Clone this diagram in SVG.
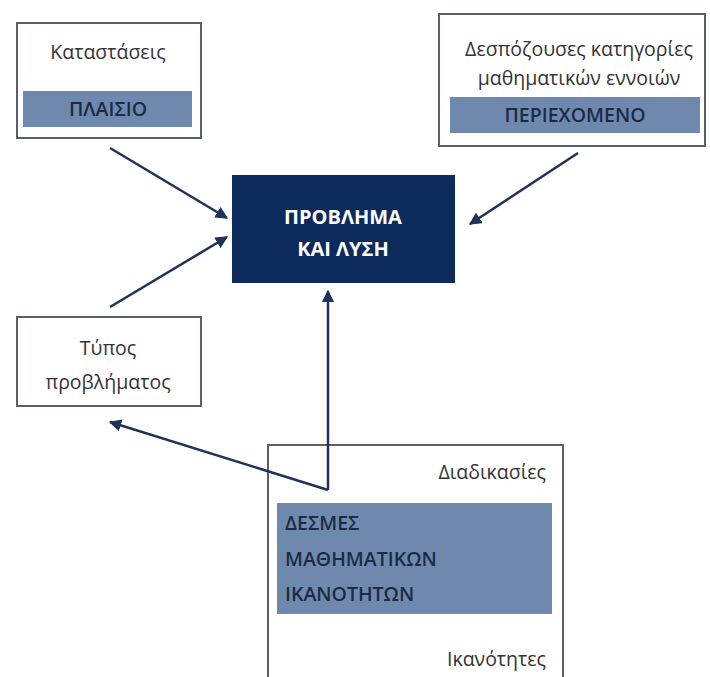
<svg xmlns="http://www.w3.org/2000/svg" width="710" height="677" viewBox="0 0 710 677">
<style>
.box{fill:#fff;stroke:#5a5f6a;stroke-width:2}
.band{fill:#6f89ae}
.t{font-family:"Open Sans","DejaVu Sans",sans-serif;font-size:19.5px;fill:#333}
.bt{font-family:"Open Sans","DejaVu Sans",sans-serif;font-size:19.5px;fill:#1c2b45;font-weight:600}
.ct{font-family:"Open Sans","DejaVu Sans",sans-serif;font-size:20px;fill:#fff;font-weight:700}
.c{stroke:#1f3258;stroke-width:2.5;fill:none}
</style>
<defs>
<marker id="ah" viewBox="0 0 10 10" refX="9" refY="5" markerWidth="5" markerHeight="5" orient="auto" markerUnits="strokeWidth">
<path d="M0,0 L10,5 L0,10 z" fill="#1f3258"/>
</marker>
</defs>
<rect width="710" height="677" fill="#fff"/>
<g id="node-katastaseis">
<rect class="box" x="17" y="23" width="184" height="115"/>
<rect class="band" x="23" y="91" width="169" height="36"/>
<text class="t" x="108" y="59" text-anchor="middle">Καταστάσεις</text>
<text class="bt" x="108" y="116" text-anchor="middle">ΠΛΑΙΣΙΟ</text>
</g>
<g id="node-periexomeno">
<rect class="box" x="439" y="14" width="266" height="132"/>
<rect class="band" x="450" y="97" width="250" height="36"/>
<text class="t" x="579" y="56" text-anchor="middle">Δεσπόζουσες κατηγορίες</text>
<text class="t" x="579" y="85" text-anchor="middle">μαθηματικών εννοιών</text>
<text class="bt" x="575" y="122" text-anchor="middle">ΠΕΡΙΕΧΟΜΕΝΟ</text>
</g>
<g id="node-provlima">
<rect x="232" y="175" width="223" height="108" fill="#0c2a5c"/>
<text class="ct" x="343" y="224" text-anchor="middle">ΠΡΟΒΛΗΜΑ</text>
<text class="ct" x="343" y="256" text-anchor="middle">ΚΑΙ ΛΥΣΗ</text>
</g>
<g id="node-typos">
<rect class="box" x="17" y="317" width="184" height="89"/>
<text class="t" x="108" y="355" text-anchor="middle">Τύπος</text>
<text class="t" x="108" y="389" text-anchor="middle">προβλήματος</text>
</g>
<g id="node-desmes">
<rect class="box" x="268" y="445" width="295" height="240"/>
<rect class="band" x="277" y="503" width="275" height="111"/>
<text class="t" x="546" y="479" text-anchor="end">Διαδικασίες</text>
<text class="bt" x="285" y="530">ΔΕΣΜΕΣ</text>
<text class="bt" x="285" y="566">ΜΑΘΗΜΑΤΙΚΩΝ</text>
<text class="bt" x="285" y="601">ΙΚΑΝΟΤΗΤΩΝ</text>
<text class="t" x="546" y="666" text-anchor="end">Ικανότητες</text>
</g>
<g id="connectors">
<line class="c" x1="110" y1="148" x2="227" y2="218" marker-end="url(#ah)"/>
<line class="c" x1="110" y1="307" x2="227" y2="237" marker-end="url(#ah)"/>
<line class="c" x1="578" y1="153" x2="470" y2="224" marker-end="url(#ah)"/>
<line class="c" x1="328" y1="490" x2="328" y2="291" marker-end="url(#ah)"/>
<line class="c" x1="328" y1="490" x2="110" y2="422" marker-end="url(#ah)"/>
</g>
</svg>
